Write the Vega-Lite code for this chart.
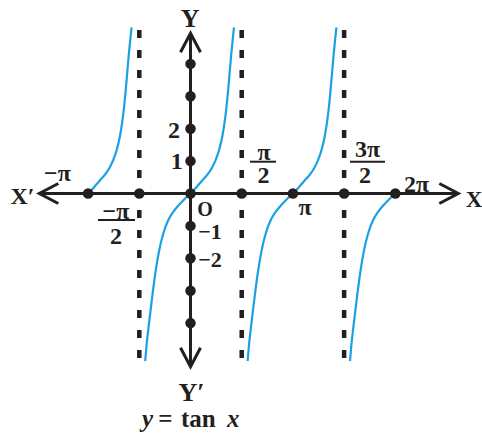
{
  "$schema": "https://vega.github.io/schema/vega-lite/v6.json",
  "width": 482,
  "height": 435,
  "autosize": {"type": "none"},
  "padding": 0,
  "background": "white",
  "config": {"view": {"stroke": null}},
  "datasets": {
    "curve": [
      {"b": 1, "x": -3.142, "y": 0}, {"b": 1, "x": -2.972, "y": 0.18}, {"b": 1, "x": -2.802, "y": 0.38}, {"b": 1, "x": -2.642, "y": 0.56}, {"b": 1, "x": -2.492, "y": 0.78}, {"b": 1, "x": -2.372, "y": 1.03}, {"b": 1, "x": -2.262, "y": 1.35}, {"b": 1, "x": -2.162, "y": 1.78}, {"b": 1, "x": -2.082, "y": 2.3}, {"b": 1, "x": -2.012, "y": 2.92}, {"b": 1, "x": -1.952, "y": 3.6}, {"b": 1, "x": -1.892, "y": 4.3}, {"b": 1, "x": -1.842, "y": 4.8}, {"b": 1, "x": -1.808, "y": 5.13},
      {"b": 2, "x": -1.39, "y": -5.17}, {"b": 2, "x": -1.35, "y": -4.7}, {"b": 2, "x": -1.27, "y": -3.98}, {"b": 2, "x": -1.17, "y": -3.15}, {"b": 2, "x": -1.07, "y": -2.4}, {"b": 2, "x": -0.96, "y": -1.75}, {"b": 2, "x": -0.83, "y": -1.22}, {"b": 2, "x": -0.68, "y": -0.82}, {"b": 2, "x": -0.53, "y": -0.57}, {"b": 2, "x": -0.37, "y": -0.37}, {"b": 2, "x": -0.18, "y": -0.17}, {"b": 2, "x": 0, "y": 0}, {"b": 2, "x": 0.17, "y": 0.18}, {"b": 2, "x": 0.34, "y": 0.38}, {"b": 2, "x": 0.5, "y": 0.56}, {"b": 2, "x": 0.65, "y": 0.78}, {"b": 2, "x": 0.77, "y": 1.03}, {"b": 2, "x": 0.88, "y": 1.35}, {"b": 2, "x": 0.98, "y": 1.78}, {"b": 2, "x": 1.06, "y": 2.3}, {"b": 2, "x": 1.13, "y": 2.92}, {"b": 2, "x": 1.19, "y": 3.6}, {"b": 2, "x": 1.25, "y": 4.3}, {"b": 2, "x": 1.3, "y": 4.8}, {"b": 2, "x": 1.334, "y": 5.13},
      {"b": 3, "x": 1.752, "y": -5.17}, {"b": 3, "x": 1.792, "y": -4.7}, {"b": 3, "x": 1.872, "y": -3.98}, {"b": 3, "x": 1.972, "y": -3.15}, {"b": 3, "x": 2.072, "y": -2.4}, {"b": 3, "x": 2.182, "y": -1.75}, {"b": 3, "x": 2.312, "y": -1.22}, {"b": 3, "x": 2.462, "y": -0.82}, {"b": 3, "x": 2.612, "y": -0.57}, {"b": 3, "x": 2.772, "y": -0.37}, {"b": 3, "x": 2.962, "y": -0.17}, {"b": 3, "x": 3.142, "y": 0}, {"b": 3, "x": 3.312, "y": 0.18}, {"b": 3, "x": 3.482, "y": 0.38}, {"b": 3, "x": 3.642, "y": 0.56}, {"b": 3, "x": 3.792, "y": 0.78}, {"b": 3, "x": 3.912, "y": 1.03}, {"b": 3, "x": 4.022, "y": 1.35}, {"b": 3, "x": 4.122, "y": 1.78}, {"b": 3, "x": 4.202, "y": 2.3}, {"b": 3, "x": 4.272, "y": 2.92}, {"b": 3, "x": 4.332, "y": 3.6}, {"b": 3, "x": 4.392, "y": 4.3}, {"b": 3, "x": 4.442, "y": 4.8}, {"b": 3, "x": 4.476, "y": 5.13},
      {"b": 4, "x": 4.893, "y": -5.17}, {"b": 4, "x": 4.933, "y": -4.7}, {"b": 4, "x": 5.013, "y": -3.98}, {"b": 4, "x": 5.113, "y": -3.15}, {"b": 4, "x": 5.213, "y": -2.4}, {"b": 4, "x": 5.323, "y": -1.75}, {"b": 4, "x": 5.453, "y": -1.22}, {"b": 4, "x": 5.603, "y": -0.82}, {"b": 4, "x": 5.753, "y": -0.57}, {"b": 4, "x": 5.913, "y": -0.37}, {"b": 4, "x": 6.103, "y": -0.17}, {"b": 4, "x": 6.283, "y": 0}
    ],
    "asym": [
      {"x": -1.5708, "y": 5.046, "y2": -5.08},
      {"x": 1.5708, "y": 5.046, "y2": -5.08},
      {"x": 4.7124, "y": 5.046, "y2": -5.08}
    ],
    "axes": [
      {"x": -4.62, "x2": 8.2, "y": 0, "y2": 0},
      {"x": 0, "x2": 0, "y": 4.93, "y2": -5.33}
    ],
    "arrows": [
      {"x": -4.638, "y": 0, "a": 180},
      {"x": 8.215, "y": 0, "a": 0},
      {"x": 0, "y": 4.944, "a": 270},
      {"x": 0, "y": -5.346, "a": 90}
    ],
    "dots": [
      {"x": -3.1416, "y": 0}, {"x": -1.5708, "y": 0}, {"x": 0, "y": 0}, {"x": 1.5708, "y": 0}, {"x": 3.1416, "y": 0}, {"x": 4.7124, "y": 0}, {"x": 6.2832, "y": 0},
      {"x": 0, "y": 1}, {"x": 0, "y": 2}, {"x": 0, "y": 3}, {"x": 0, "y": 4},
      {"x": 0, "y": -1}, {"x": 0, "y": -2}, {"x": 0, "y": -3}, {"x": 0, "y": -4}
    ],
    "bars": [
      {"x": -2.837, "x2": -1.702, "y": -0.818},
      {"x": 1.825, "x2": 2.623, "y": 0.981},
      {"x": 4.893, "x2": 5.966, "y": 0.981}
    ],
    "labels": [
      {"t": "Y", "x": -0.015, "y": 5.40, "s": 26},
      {"t": "Y′", "x": 0.03, "y": -6.17, "s": 26},
      {"t": "X′", "x": -5.153, "y": -0.1, "s": 24},
      {"t": "X", "x": 8.696, "y": -0.2, "s": 23},
      {"t": "−π", "x": -4.08, "y": 0.60, "s": 24},
      {"t": "−π", "x": -2.285, "y": -0.571, "s": 24},
      {"t": "2", "x": -2.285, "y": -1.358, "s": 24},
      {"t": "O", "x": 0.445, "y": -0.51, "s": 20},
      {"t": "1", "x": -0.423, "y": 0.963, "s": 24},
      {"t": "2", "x": -0.506, "y": 1.914, "s": 24},
      {"t": "−1", "x": 0.6, "y": -1.19, "s": 22},
      {"t": "−2", "x": 0.6, "y": -2.05, "s": 22},
      {"t": "π", "x": 2.255, "y": 1.265, "s": 24},
      {"t": "2", "x": 2.239, "y": 0.525, "s": 24},
      {"t": "π", "x": 3.512, "y": -0.463, "s": 24},
      {"t": "3π", "x": 5.429, "y": 1.327, "s": 24},
      {"t": "2", "x": 5.353, "y": 0.525, "s": 24},
      {"t": "2π", "x": 6.933, "y": 0.262, "s": 24}
    ],
    "formulaItalic": [
      {"t": "y", "x": -1.319, "y": -7.21},
      {"t": "x", "x": 1.313, "y": -7.21}
    ],
    "formulaUpright": [
      {"t": "=", "x": -0.77, "y": -7.21},
      {"t": "tan", "x": 0.24, "y": -7.21}
    ]
  },
  "encoding": {
    "x": {"field": "x", "type": "quantitative", "scale": {"domain": [-5.844, 8.942], "nice": false, "zero": false}, "axis": null},
    "y": {"field": "y", "type": "quantitative", "scale": {"domain": [-7.454, 5.972], "nice": false, "zero": false}, "axis": null}
  },
  "layer": [
    {
      "data": {"name": "asym"},
      "mark": {"type": "rule", "color": "#231f20", "strokeWidth": 4.5, "strokeDash": [8, 12]},
      "encoding": {"y2": {"field": "y2"}}
    },
    {
      "data": {"name": "curve"},
      "mark": {"type": "line", "color": "#1ba1e2", "strokeWidth": 2.2, "interpolate": "monotone"},
      "encoding": {"detail": {"field": "b", "type": "nominal"}}
    },
    {
      "data": {"name": "axes"},
      "mark": {"type": "rule", "color": "#231f20", "strokeWidth": 3},
      "encoding": {"x2": {"field": "x2"}, "y2": {"field": "y2"}}
    },
    {
      "data": {"name": "arrows"},
      "mark": {"type": "point", "shape": "M -1.9 -1 L 0 0 L -1.9 1", "size": 400, "filled": false, "color": "#231f20", "strokeWidth": 3, "opacity": 1, "strokeJoin": "miter", "strokeCap": "butt"},
      "encoding": {"angle": {"field": "a", "type": "quantitative", "scale": null}}
    },
    {
      "data": {"name": "dots"},
      "mark": {"type": "point", "shape": "circle", "size": 110, "filled": true, "color": "#231f20", "opacity": 1, "strokeWidth": 0}
    },
    {
      "data": {"name": "bars"},
      "mark": {"type": "rule", "color": "#231f20", "strokeWidth": 2},
      "encoding": {"x2": {"field": "x2"}}
    },
    {
      "data": {"name": "labels"},
      "mark": {"type": "text", "font": "Liberation Serif", "fontWeight": "bold", "color": "#231f20", "align": "center", "baseline": "middle"},
      "encoding": {"text": {"field": "t"}, "size": {"field": "s", "type": "quantitative", "scale": null}}
    },
    {
      "data": {"name": "formulaItalic"},
      "mark": {"type": "text", "font": "Liberation Serif", "fontWeight": "bold", "fontStyle": "italic", "fontSize": 25, "color": "#231f20", "align": "center", "baseline": "alphabetic"},
      "encoding": {"text": {"field": "t"}}
    },
    {
      "data": {"name": "formulaUpright"},
      "mark": {"type": "text", "font": "Liberation Serif", "fontWeight": "bold", "fontSize": 25, "color": "#231f20", "align": "center", "baseline": "alphabetic"},
      "encoding": {"text": {"field": "t"}}
    }
  ]
}
